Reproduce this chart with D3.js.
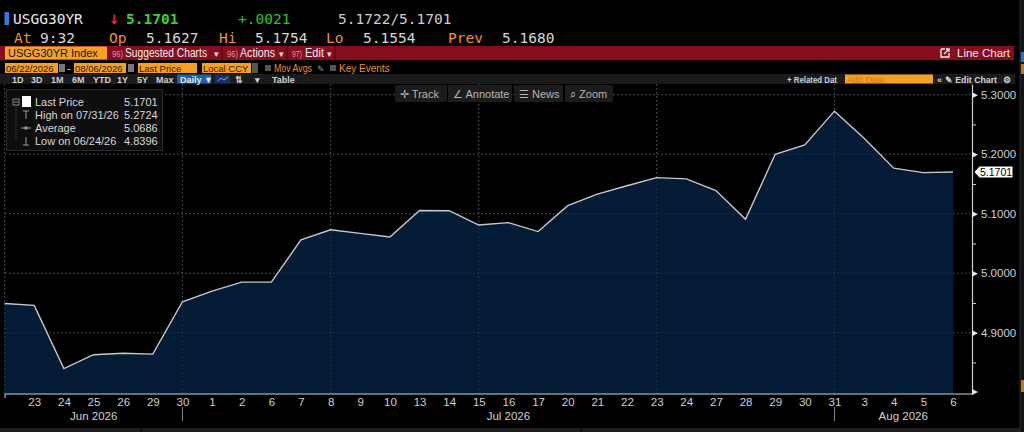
<!DOCTYPE html>
<html lang="en">
  <head>
    <meta charset="utf-8">
    <title>USGG30YR</title>
    <script src="https://cdn.jsdelivr.net/npm/d3@7"></script>
    <style type="text/css">
      body { margin: 0; background: #000; }
      svg { display: block; font-family: "Liberation Sans", Arial, sans-serif; }
      .hdr { font-family: "DejaVu Sans Mono", monospace; font-size: 14.5px; }
      .ui { font-size: 10.5px; fill: #d8d8d8; }
      .small { font-size: 9px; fill: #cfcfcf; font-weight: bold; }
      .grid { stroke: #4a5560; stroke-dasharray: 1.5,2.5; stroke-width: 1; }
      .tickTxt { font-size: 11.5px; fill: #d0d0d0; }
      .legTxt { font-size: 11px; fill: #d8d8d8; }
    </style>
  </head>
  <body>
    <svg id="chart" width="1024" height="432"></svg>
    <script type="text/javascript">
      // trading days shown on the chart
      var dates = ["2026-06-22","2026-06-23","2026-06-24","2026-06-25","2026-06-26","2026-06-29","2026-06-30",
        "2026-07-01","2026-07-02","2026-07-06","2026-07-07","2026-07-08","2026-07-09","2026-07-10",
        "2026-07-13","2026-07-14","2026-07-15","2026-07-16","2026-07-17","2026-07-20","2026-07-21",
        "2026-07-22","2026-07-23","2026-07-24","2026-07-27","2026-07-28","2026-07-29","2026-07-30",
        "2026-07-31","2026-08-03","2026-08-04","2026-08-05","2026-08-06"];

      // last price (yield %) per day
      var prices = [4.949, 4.946, 4.8396, 4.863, 4.8655, 4.864, 4.952,
        4.970, 4.985, 4.985, 5.056, 5.073, 5.067, 5.061,
        5.1055, 5.105, 5.081, 5.085, 5.070, 5.1136, 5.1328,
        5.147, 5.1607, 5.1585, 5.139, 5.0908, 5.200, 5.2156,
        5.2724, 5.227, 5.1765, 5.169, 5.1701];

      var yExtent = [4.797, 5.318],
        yMajor = [4.9, 5.0, 5.1, 5.2, 5.3],
        yMinor = [4.85, 4.95, 5.05, 5.15, 5.25],
        gridDates = ["2026-06-22","2026-06-30","2026-07-08","2026-07-15","2026-07-23","2026-07-31"],
        months = ["Jun 2026", "Jul 2026", "Aug 2026"],
        monthEnds = ["2026-06-30", "2026-07-31"];

      var legendRows = [
        {label: "Last Price", value: "5.1701"},
        {label: "High on 07/31/26", value: "5.2724"},
        {label: "Average", value: "5.0686"},
        {label: "Low on 06/24/26", value: "4.8396"}];

      var data = dates.map(function(d, i) { return {date: d, value: prices[i]}; });

      var svg = d3.select("#chart");
      var plotTop = 84, plotBottom = 394, left = 5, axisX = 972;

      svg.append("rect").attr("width", 1024).attr("height", 432).attr("fill", "#000");

      var x = d3.scalePoint().domain(dates).range([4.6, 953]);
      var y = d3.scaleLinear().domain(yExtent).range([plotBottom, plotTop]);

      //---------- header lines
      svg.append("rect").attr("x", 4.5).attr("y", 12).attr("width", 4.5).attr("height", 13).attr("fill", "#2b7de9");
      var h1 = [
        {t: "USGG30YR", x: 13, c: "#e8e8e8", w: "normal"},
        {t: "\u2193", x: 109, c: "#e3262b", w: "bold"},
        {t: "5.1701", x: 126, c: "#36d236", w: "bold"},
        {t: "+.0021", x: 238, c: "#2cc12c", w: "normal"},
        {t: "5.1722/5.1701", x: 338, c: "#cfcfcf", w: "normal"}];
      svg.selectAll(".h1").data(h1).enter().append("text")
        .attr("class", "hdr")
        .attr("x", function(d) { return d.x; })
        .attr("y", 23.5)
        .attr("fill", function(d) { return d.c; })
        .attr("font-weight", function(d) { return d.w; })
        .style("font-size", function(d) { return d.t == "\u2193" ? "17px" : null; })
        .text(function(d) { return d.t; });

      var h2 = [
        {t: "At", x: 14, c: "#ef9420"}, {t: "9:32", x: 40, c: "#d8d8d8"},
        {t: "Op", x: 109, c: "#ef9420"}, {t: "5.1627", x: 146, c: "#d8d8d8"},
        {t: "Hi", x: 219, c: "#ef9420"}, {t: "5.1754", x: 255, c: "#d8d8d8"},
        {t: "Lo", x: 326, c: "#ef9420"}, {t: "5.1554", x: 363, c: "#d8d8d8"},
        {t: "Prev", x: 448, c: "#ef9420"}, {t: "5.1680", x: 502, c: "#d8d8d8"}];
      svg.selectAll(".h2").data(h2).enter().append("text")
        .attr("class", "hdr")
        .attr("x", function(d) { return d.x; })
        .attr("y", 42.5)
        .attr("fill", function(d) { return d.c; })
        .text(function(d) { return d.t; });

      //---------- red menu bar
      svg.append("rect").attr("x", 0).attr("y", 46).attr("width", 1014).attr("height", 14).attr("fill", "#860c1e");
      svg.append("rect").attr("x", 5).attr("y", 46.5).attr("width", 102).attr("height", 13).attr("fill", "#f7a321");
      svg.append("text").attr("class", "ui").attr("x", 8).attr("y", 57).style("fill", "#111").style("font-size", "11px").text("USGG30YR Index");
      var menu = [{t: "96)", x: 112, w: 11}, {t: "Suggested Charts", x: 125, w: 82}, {t: "\u25BE", x: 214, w: 5},
        {t: "96)", x: 227, w: 11}, {t: "Actions", x: 240, w: 35}, {t: "\u25BE", x: 279, w: 5},
        {t: "97)", x: 292, w: 10}, {t: "Edit", x: 305, w: 19}, {t: "\u25BE", x: 327, w: 5}];
      svg.selectAll(".menu").data(menu).enter().append("text")
        .attr("class", "ui").attr("x", function(d) { return d.x; }).attr("y", 57)
        .attr("textLength", function(d) { return d.w; }).attr("lengthAdjust", "spacingAndGlyphs")
        .style("font-size", function(d) { return d.w > 6 && d.t.indexOf(")") < 0 ? "12px" : "9px"; })
        .style("fill", function(d) { return d.t.indexOf(")") < 0 ? "#eee" : "#d49aa4"; })
        .text(function(d) { return d.t; });
      [222, 287, 335].forEach(function(sx) {
        svg.append("line").attr("x1", sx).attr("x2", sx).attr("y1", 46).attr("y2", 60).attr("stroke", "#4a0610").attr("stroke-width", 1);
      });
      svg.append("path").attr("d", "M941,49 h4 M941,49 v8 h8 v-4 M944,54 l5,-5 M946,49 h3 v3").attr("fill", "none").attr("stroke", "#eee").attr("stroke-width", 1.3);
      svg.append("text").attr("class", "ui").attr("x", 957).attr("y", 57).style("fill", "#eee").style("font-size", "11.5px").text("Line Chart");

      //---------- date / field row
      var boxes = [{x: 5, w: 53, t: "06/22/2026"}, {x: 74, w: 52, t: "08/06/2026"},
        {x: 138, w: 59, t: "Last Price"}, {x: 202, w: 49, t: "Local CCY"}];
      svg.selectAll(".box").data(boxes).enter().append("rect")
        .attr("x", function(d) { return d.x; }).attr("y", 63).attr("width", function(d) { return d.w; })
        .attr("height", 10).attr("fill", "#f5a01e");
      svg.selectAll(".boxT").data(boxes).enter().append("text")
        .attr("class", "ui").attr("x", function(d) { return d.x + 1; }).attr("y", 71.5)
        .style("fill", "#2a1600").style("font-size", "9.5px").text(function(d) { return d.t; });
      [59, 128].forEach(function(ix) {
        svg.append("rect").attr("x", ix).attr("y", 64).attr("width", 6).attr("height", 8).attr("fill", "#777");
      });
      svg.append("text").attr("class", "ui").attr("x", 67).attr("y", 72).style("fill", "#ddd").text("-");
      svg.append("rect").attr("x", 252).attr("y", 63).attr("width", 6).attr("height", 10).attr("fill", "#555");
      [265, 330].forEach(function(cx) {
        svg.append("rect").attr("x", cx).attr("y", 65).attr("width", 6).attr("height", 6).attr("fill", "#555");
      });
      svg.append("text").attr("class", "ui").attr("x", 274).attr("y", 71.5).attr("textLength", 38).attr("lengthAdjust", "spacingAndGlyphs")
        .style("fill", "#ec921e").style("font-size", "10px").text("Mov Avgs");
      svg.append("text").attr("class", "ui").attr("x", 317).attr("y", 71.5).style("fill", "#999").style("font-size", "9px").text("\u270E");
      svg.append("text").attr("class", "ui").attr("x", 339).attr("y", 71.5).style("fill", "#ec921e").style("font-size", "10px").text("Key Events");

      //---------- range buttons row
      svg.append("rect").attr("x", 0).attr("y", 74).attr("width", 1015).attr("height", 10).attr("fill", "#1b1b1b");
      var ranges = [{t: "1D", x: 12}, {t: "3D", x: 31}, {t: "1M", x: 51}, {t: "6M", x: 72}, {t: "YTD", x: 93},
        {t: "1Y", x: 117}, {t: "5Y", x: 137}, {t: "Max", x: 156}];
      svg.selectAll(".rng").data(ranges).enter().append("text")
        .attr("class", "small").attr("x", function(d) { return d.x; }).attr("y", 82.5).text(function(d) { return d.t; });
      svg.append("rect").attr("x", 177).attr("y", 74.5).attr("width", 34).attr("height", 9).attr("fill", "#1c5fae");
      svg.append("text").attr("class", "small").attr("x", 180).attr("y", 82.5).style("fill", "#e8e8e8").text("Daily \u25BC");
      svg.append("rect").attr("x", 215).attr("y", 75).attr("width", 15).attr("height", 8).attr("fill", "#12345e");
      svg.append("path").attr("d", "M218,81 L221,78 L224,80 L228,77").attr("fill", "none").attr("stroke", "#6fa8ff").attr("stroke-width", 1);
      svg.append("text").attr("class", "small").attr("x", 235).attr("y", 82.5).text("\u21C5");
      svg.append("text").attr("class", "small").attr("x", 255).attr("y", 82.5).text("\u25BE");
      svg.append("text").attr("class", "small").attr("x", 272).attr("y", 82.5).text("Table");
      svg.append("text").attr("class", "small").attr("x", 787).attr("y", 82.5).attr("textLength", 50).attr("lengthAdjust", "spacingAndGlyphs").text("+ Related Dat");
      svg.append("rect").attr("x", 845).attr("y", 74.5).attr("width", 88).attr("height", 9).attr("fill", "#f5a01e");
      svg.append("text").attr("class", "small").attr("x", 847).attr("y", 82.5).style("fill", "#d9781a").style("font-weight", "normal").text("Add Data");
      svg.append("text").attr("class", "small").attr("x", 937).attr("y", 82.5).text("\u00AB");
      svg.append("text").attr("class", "small").attr("x", 945).attr("y", 82.5).attr("textLength", 52).attr("lengthAdjust", "spacingAndGlyphs").text("\u270E Edit Chart");
      svg.append("text").attr("class", "small").attr("x", 1003).attr("y", 82.5).text("\u2699");

      //---------- gridlines
      var g = svg.append("g");
      g.selectAll(".hgrid").data(yMajor).enter().append("line")
        .attr("class", "grid")
        .attr("x1", left).attr("x2", axisX)
        .attr("y1", function(d) { return y(d); }).attr("y2", function(d) { return y(d); });
      g.selectAll(".vgrid").data(gridDates).enter().append("line")
        .attr("class", "grid")
        .attr("x1", function(d) { return x(d); }).attr("x2", function(d) { return x(d); })
        .attr("y1", plotTop).attr("y2", plotBottom);

      //---------- area + line
      var area = d3.area()
        .x(function(d) { return x(d.date); })
        .y0(plotBottom)
        .y1(function(d) { return y(d.value); });
      var line = d3.line()
        .x(function(d) { return x(d.date); })
        .y(function(d) { return y(d.value); });

      svg.append("path").datum(data).attr("d", area).attr("fill", "#041d3a").attr("fill-opacity", 0.93);
      // gridlines show faintly through the fill
      svg.append("g").selectAll("line").data(yMajor).enter().append("line")
        .attr("class", "grid").attr("stroke-opacity", 0.45)
        .attr("x1", left).attr("x2", x(dates[dates.length - 1]))
        .attr("y1", function(d) { return y(d); }).attr("y2", function(d) { return y(d); });
      svg.append("g").selectAll("line").data(gridDates).enter().append("line")
        .attr("class", "grid").attr("stroke-opacity", 0.45)
        .attr("x1", function(d) { return x(d); }).attr("x2", function(d) { return x(d); })
        .attr("y1", plotTop).attr("y2", plotBottom);
      svg.append("path").datum(data).attr("d", line)
        .attr("fill", "none").attr("stroke", "#c8c8c8").attr("stroke-width", 1.4);

      //---------- right axis
      var yAxis = d3.axisRight(y).tickValues(yMajor).tickFormat(d3.format(".4f")).tickSize(0).tickPadding(9);
      var ya = svg.append("g").attr("transform", "translate(" + axisX + ",0)").call(yAxis);
      ya.select(".domain").attr("stroke", "#cfcfcf").attr("stroke-width", 1.2);
      ya.selectAll("text").attr("class", "tickTxt").attr("fill", null).style("font-family", "Liberation Sans, Arial");
      ya.selectAll(".tick").append("path").attr("d", "M0,-3 L6,0 L0,3 Z").attr("fill", "#e8e8e8");
      var yMinorAxis = d3.axisRight(y).tickValues(yMinor).tickFormat("").tickSize(4);
      var ym = svg.append("g").attr("transform", "translate(" + axisX + ",0)").call(yMinorAxis);
      ym.select(".domain").remove();
      ym.selectAll("line").attr("stroke", "#cfcfcf");
      svg.append("path").attr("d", "M" + axisX + "," + (plotBottom - 5) + " l6,3 l-6,3 Z").attr("fill", "#e8e8e8");

      // last price marker
      var lastY = y(prices[prices.length - 1]);
      svg.append("path")
        .attr("d", "M974.5," + lastY + " l5,-5.5 h33 v11 h-33 Z")
        .attr("fill", "#fff");
      svg.append("text").attr("x", 980).attr("y", lastY + 4).attr("font-size", "10.5px").attr("fill", "#000").text("5.1701");

      //---------- bottom axis
      var xAxis = d3.axisBottom(x).tickValues(dates.slice(1)).tickSize(0).tickPadding(4)
        .tickFormat(function(d) { return +d.slice(8); });
      var xa = svg.append("g").attr("transform", "translate(0," + plotBottom + ")").call(xAxis);
      xa.select(".domain").remove();
      xa.selectAll("text").attr("class", "tickTxt").attr("fill", null);
      svg.append("line").attr("x1", left).attr("x2", axisX).attr("y1", plotBottom).attr("y2", plotBottom)
        .attr("stroke", "#cfcfcf").attr("stroke-width", 1.2);
      svg.append("line").attr("x1", left).attr("x2", left).attr("y1", plotBottom).attr("y2", plotBottom + 4)
        .attr("stroke", "#cfcfcf");

      // month labels centred between month separators
      var edges = [left].concat(monthEnds.map(function(d) { return x(d); })).concat([axisX]);
      svg.selectAll(".mon").data(months).enter().append("text")
        .attr("class", "tickTxt")
        .attr("x", function(d, i) { return (edges[i] + edges[i + 1]) / 2; })
        .attr("y", 419.5)
        .attr("text-anchor", "middle")
        .text(function(d) { return d; });
      svg.selectAll(".sep").data(monthEnds).enter().append("line")
        .attr("x1", function(d) { return x(d); }).attr("x2", function(d) { return x(d); })
        .attr("y1", 407).attr("y2", 421).attr("stroke", "#8a8a8a");

      // bottom strip
      svg.append("rect").attr("x", 0).attr("y", 428).attr("width", 1020).attr("height", 4).attr("fill", "#1e1e1e");
      svg.append("line").attr("x1", 141).attr("x2", 141).attr("y1", 428).attr("y2", 432).attr("stroke", "#000");
      svg.append("line").attr("x1", 581).attr("x2", 581).attr("y1", 428).attr("y2", 432).attr("stroke", "#000");

      //---------- track/annotate buttons
      var tools = [{t: "\u271B Track", x: 395, w: 52}, {t: "\u2220 Annotate", x: 448, w: 64},
        {t: "\u2630 News", x: 514, w: 49}, {t: "\u2315 Zoom", x: 565, w: 48}];
      svg.selectAll(".tool").data(tools).enter().append("rect")
        .attr("x", function(d) { return d.x; }).attr("y", 85).attr("width", function(d) { return d.w; })
        .attr("height", 17).attr("fill", "#1c1c1c");
      svg.selectAll(".toolT").data(tools).enter().append("text")
        .attr("class", "ui").attr("x", function(d) { return d.x + 5; }).attr("y", 97.5)
        .style("fill", "#b5b5b5").style("font-size", "11px").text(function(d) { return d.t; });

      //---------- legend box
      svg.append("rect").attr("x", 6.5).attr("y", 89.5).attr("width", 156).attr("height", 61)
        .attr("fill", "#0e0e0e").attr("stroke", "#2a2a2a");
      var legY = [102, 115, 128, 141];
      svg.append("line").attr("x1", 16).attr("x2", 16).attr("y1", 104).attr("y2", 141)
        .attr("stroke", "#666").attr("stroke-dasharray", "1,1.5");
      svg.append("rect").attr("x", 13).attr("y", 99).attr("width", 6).attr("height", 6).attr("fill", "#0e0e0e").attr("stroke", "#888");
      svg.append("line").attr("x1", 14).attr("x2", 18).attr("y1", 102).attr("y2", 102).attr("stroke", "#888");
      svg.append("rect").attr("x", 22).attr("y", 96).attr("width", 9).attr("height", 11).attr("fill", "#fff");
      // high / avg / low icons
      svg.append("path").attr("d", "M23,111 h6 M26,111 v8").attr("stroke", "#999").attr("fill", "none");
      svg.append("path").attr("d", "M21,128 h10").attr("stroke", "#999").attr("fill", "none");
      svg.append("circle").attr("cx", 26).attr("cy", 128).attr("r", 1.8).attr("fill", "#999");
      svg.append("path").attr("d", "M26,137 v8 M23,145 h6").attr("stroke", "#999").attr("fill", "none");
      svg.selectAll(".legL").data(legendRows).enter().append("text")
        .attr("class", "legTxt").attr("x", 35).attr("y", function(d, i) { return legY[i] + 4; })
        .text(function(d) { return d.label; });
      svg.selectAll(".legV").data(legendRows).enter().append("text")
        .attr("class", "legTxt").attr("x", 124).attr("y", function(d, i) { return legY[i] + 4; })
        .text(function(d) { return d.value; });

      //---------- right edge panel
      svg.append("rect").attr("x", 1020).attr("y", 0).attr("width", 4).attr("height", 432).attr("fill", "#101418");
      svg.append("line").attr("x1", 1020).attr("x2", 1020).attr("y1", 0).attr("y2", 432).attr("stroke", "#2c2c2c");
      svg.append("rect").attr("x", 1021).attr("y", 52).attr("width", 3).attr("height", 10).attr("fill", "#2b6fd0");
      svg.append("rect").attr("x", 1021).attr("y", 64).attr("width", 3).attr("height", 10).attr("fill", "#c07a20");
      svg.append("rect").attr("x", 1021).attr("y", 380).attr("width", 3).attr("height", 12).attr("fill", "#c07a20");
    </script>
  </body>
</html>
